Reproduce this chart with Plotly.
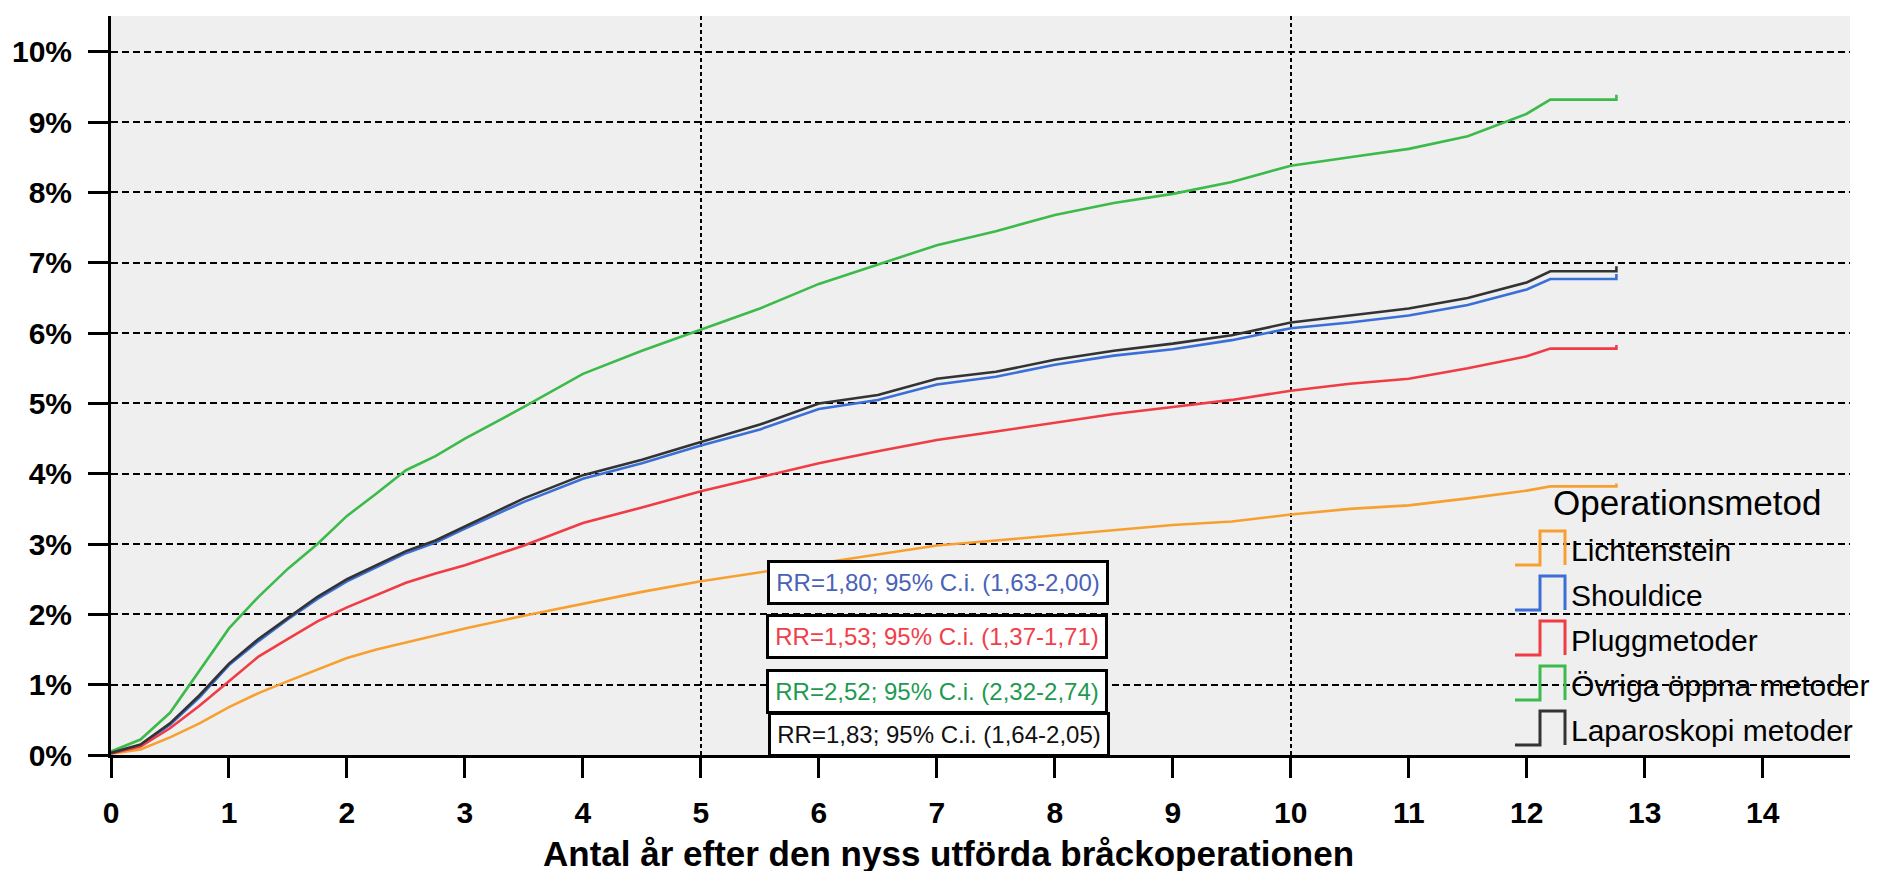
import plotly.graph_objects as go

years = [0, 0.25, 0.5, 0.75, 1, 1.25, 1.5, 1.75, 2, 2.25, 2.5, 2.75, 3, 3.5, 4, 4.5, 5, 5.5,
         6, 6.5, 7, 7.5, 8, 8.5, 9, 9.5, 10, 10.5, 11, 11.5, 12, 12.2, 12.76, 12.76]

lichtenstein = [0.02, 0.08, 0.25, 0.45, 0.68, 0.88, 1.05, 1.22, 1.38, 1.5, 1.6, 1.7, 1.8, 1.98, 2.15, 2.32, 2.47, 2.6,
                2.72, 2.85, 2.98, 3.05, 3.12, 3.2, 3.27, 3.32, 3.42, 3.5, 3.55, 3.65, 3.76, 3.82, 3.82, 3.86]
shouldice = [0.03, 0.14, 0.43, 0.82, 1.28, 1.62, 1.93, 2.22, 2.47, 2.67, 2.87, 3.02, 3.22, 3.6, 3.93, 4.15, 4.4, 4.63,
             4.92, 5.05, 5.27, 5.38, 5.55, 5.68, 5.77, 5.9, 6.07, 6.15, 6.25, 6.4, 6.62, 6.77, 6.77, 6.84]
plugg = [0.02, 0.12, 0.38, 0.7, 1.05, 1.4, 1.65, 1.9, 2.1, 2.28, 2.45, 2.58, 2.7, 2.98, 3.3, 3.52, 3.75, 3.95,
         4.15, 4.32, 4.48, 4.6, 4.72, 4.85, 4.95, 5.05, 5.18, 5.28, 5.35, 5.5, 5.67, 5.78, 5.78, 5.83]
ovriga = [0.05, 0.22, 0.6, 1.2, 1.8, 2.25, 2.65, 3.0, 3.4, 3.72, 4.05, 4.25, 4.5, 4.95, 5.42, 5.75, 6.05, 6.35,
          6.7, 6.98, 7.25, 7.45, 7.68, 7.85, 7.98, 8.15, 8.38, 8.5, 8.62, 8.8, 9.12, 9.32, 9.32, 9.39]
laparoskopi = [0.03, 0.15, 0.45, 0.85, 1.3, 1.65, 1.95, 2.25, 2.5, 2.7, 2.9, 3.05, 3.25, 3.65, 3.98, 4.2, 4.45, 4.7,
               5.0, 5.12, 5.35, 5.45, 5.62, 5.75, 5.85, 5.97, 6.15, 6.25, 6.35, 6.5, 6.72, 6.88, 6.88, 6.95]

series_names = ["Lichtenstein", "Shouldice", "Pluggmetoder", "Övriga öppna metoder", "Laparoskopi metoder"]
series_values = [lichtenstein, shouldice, plugg, ovriga, laparoskopi]
series_colors = ["#F7A030", "#3A6FD8", "#F03C44", "#3CBA4A", "#333333"]
legend_title = "Operationsmetod"

rr_texts = ["RR=1,80; 95% C.i. (1,63-2,00)", "RR=1,53; 95% C.i. (1,37-1,71)",
            "RR=2,52; 95% C.i. (2,32-2,74)", "RR=1,83; 95% C.i. (1,64-2,05)"]
rr_colors = ["#4A62B8", "#F04048", "#1E9A50", "#111111"]
rr_x = [7.01, 7.0, 7.0, 7.02]
rr_y = [2.45, 1.69, 0.9, 0.29]

x_ticks = list(range(0, 15))
y_ticks = list(range(0, 11))
vgrid = [5, 10]
x_title = "Antal år efter den nyss utförda bråckoperationen"

FONT = "Arial, Liberation Sans, sans-serif"

# plot-area geometry (pixels) used to place the hand-drawn legend
W, H = 1881, 871
L, R, T, B = 103, 39, 8, 124
PW, PH = W - L - R, H - T - B


def px(xp):
    return (xp - L) / PW


def py(yp):
    return (H - B - yp) / PH


fig = go.Figure()
for name, vals, col in zip(series_names, series_values, series_colors):
    fig.add_trace(go.Scatter(x=years, y=vals, mode="lines", name=name,
                             line=dict(color=col, width=2.6), showlegend=False))

# second x axis only for the vertical dashed grid lines
fig.add_trace(go.Scatter(x=[None], y=[None], xaxis="x2", showlegend=False, hoverinfo="skip"))

fig.update_layout(
    width=W, height=H,
    margin=dict(l=L, r=R, t=T, b=B, autoexpand=False),
    paper_bgcolor="white",
    plot_bgcolor="#EFEFEF",
    font=dict(family=FONT, color="black"),
    showlegend=False,
    xaxis=dict(range=[0, 14.74], tickvals=x_ticks, ticktext=[str(v) for v in x_ticks],
               showgrid=False, zeroline=False, showline=True, linecolor="black", linewidth=3,
               ticks="outside", ticklen=20, tickwidth=3, tickcolor="black", automargin=False,
               tickfont=dict(size=30, weight="bold", family=FONT, color="black"),
               ticklabelstandoff=9),
    xaxis2=dict(range=[0, 14.74], overlaying="x", tickvals=vgrid, showticklabels=False,
                showgrid=True, gridcolor="black", gridwidth=1.5, griddash="4px,3px",
                zeroline=False, showline=False, ticks="", automargin=False),
    yaxis=dict(range=[0, 10.51], tickvals=y_ticks, ticktext=[f"{v}%" for v in y_ticks],
               showgrid=True, gridcolor="black", gridwidth=2.2, griddash="7px,4px",
               zeroline=False, showline=True, linecolor="black", linewidth=3,
               ticks="outside", ticklen=20, tickwidth=3, tickcolor="black", automargin=False,
               tickfont=dict(size=30, weight="bold", family=FONT, color="black"),
               ticklabelstandoff=10),
)

for txt, col, xx, yy in zip(rr_texts, rr_colors, rr_x, rr_y):
    fig.add_annotation(x=xx, y=yy, xref="x", yref="y", text=txt, showarrow=False,
                       font=dict(size=24, family=FONT, color=col),
                       bgcolor="white", bordercolor="black", borderwidth=3, borderpad=3,
                       width=330, height=33, xanchor="center", yanchor="middle")

# x axis title (centred on the page like the reference)
fig.add_annotation(x=px(W / 2), y=py(845), xref="paper", yref="paper",
                   text=f"<b>{x_title}</b>", showarrow=False,
                   font=dict(size=35, family=FONT, color="black"), xanchor="center", yanchor="middle")

# legend drawn by hand with step-shaped symbols
fig.add_annotation(x=px(1543), y=py(494), xref="paper", yref="paper", text=legend_title,
                   showarrow=False, font=dict(size=35, family=FONT, color="black"),
                   xanchor="left", yanchor="middle")
for i, (name, col) in enumerate(zip(series_names, series_values and series_colors)):
    cy = 540 + 45 * i
    top, bot = cy - 17, cy + 17
    path = (f"M {px(1507)},{py(bot)} L {px(1532)},{py(bot)} L {px(1532)},{py(top)} "
            f"L {px(1557)},{py(top)} L {px(1557)},{py(bot)}")
    fig.add_shape(type="path", path=path, xref="paper", yref="paper",
                  line=dict(color=col, width=3))
    fig.add_annotation(x=px(1561), y=py(cy + 2), xref="paper", yref="paper", text=name,
                       showarrow=False, font=dict(size=30, family=FONT, color="black"),
                       xanchor="left", yanchor="middle")

fig.write_html("out.html")
